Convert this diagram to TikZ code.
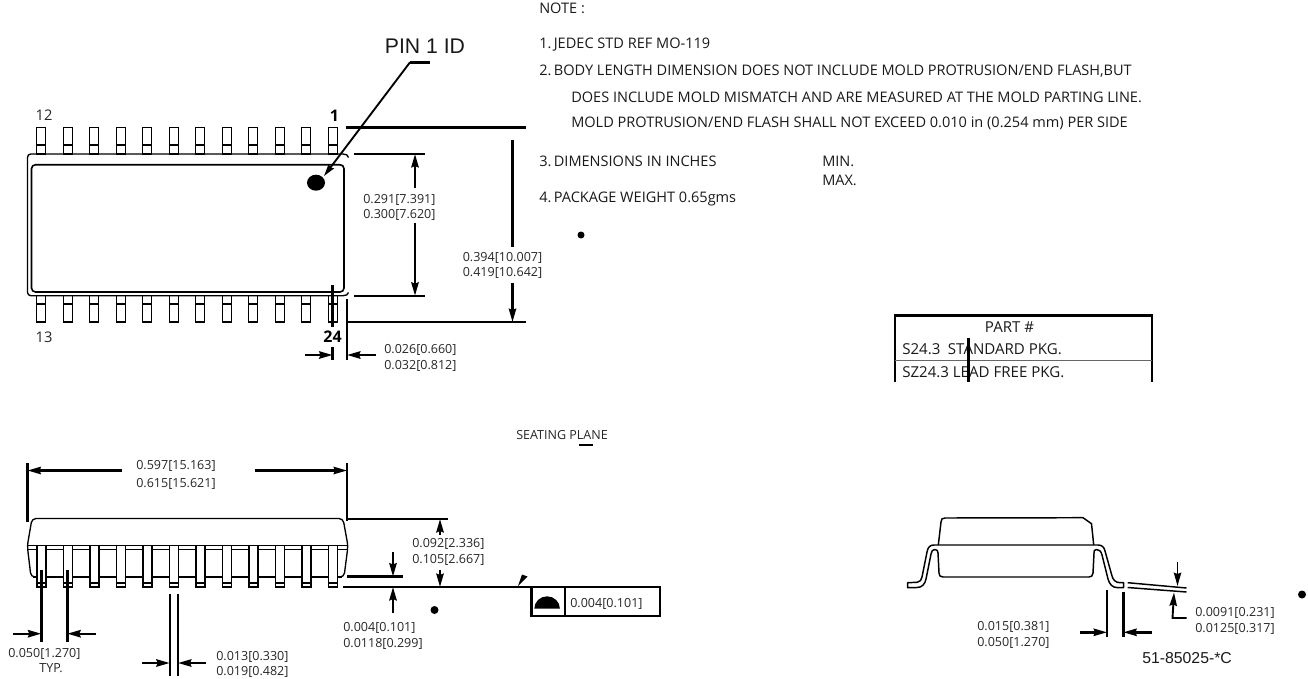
\documentclass[tikz,border=0pt]{standalone}
\usepackage{fontspec}
\setmainfont{Open Sans}
\newfontfamily\arialf{Liberation Sans}
\usetikzlibrary{arrows.meta}
\tikzset{
  dimline/.style={line width=1.8pt},
  dimarrow/.style={line width=1.8pt,-{Stealth[length=10pt,width=5.5pt,inset=1pt]}},
  body/.style={line width=1pt},
  pin/.style={line width=1pt,fill=white},
  dimtext/.style={font=\fontsize{9.4pt}{10pt}\selectfont,inner sep=0pt,anchor=west,text=black!85,text height=6.7pt,text depth=0pt},
  notetext/.style={font=\fontsize{10.9pt}{11pt}\selectfont,inner sep=0pt,anchor=west,text=black!90,text height=7.8pt,text depth=0pt},
  tabletext/.style={notetext,font=\fontsize{11.3pt}{12pt}\selectfont},
  pinno/.style={font=\fontsize{11pt}{11pt}\selectfont,inner sep=0pt,text=black!85},
  pinbold/.style={font=\bfseries\fontsize{12pt}{12pt}\selectfont,inner sep=0pt},
}
\begin{document}
\begin{tikzpicture}[x=0.75pt,y=-0.75pt]
\useasboundingbox (0,0) rectangle (1308,678);
% Top view
\foreach \i in {0,...,11}{
  \pgfmathsetmacro{\px}{36.7+26.5*\i}
  \draw[pin] (\px,127.3) rectangle ++(9,26.7);
  \draw[body] (\px,145) -- ++(9,0);
  \draw[pin] (\px,295.7) rectangle ++(9,26.3);
  \draw[body] (\px,304) -- ++(9,0);
}
\draw[body,rounded corners=2.5pt] (343,154) -- (27.5,154) -- (27.5,295.7) -- (343,295.7);
\draw[body] (343,154) .. controls (346,154) and (348,155) .. (348.5,157.5);
\draw[body] (343,295.7) .. controls (346,295.7) and (348,294.7) .. (348.5,292.5);
\draw[line width=1.2pt,rounded corners=3pt] (31.5,164.7) rectangle (344,292);
\fill (316,182.7) ellipse[x radius=9,y radius=8];
\coordinate (leaderA) at (430,62.3);
\coordinate (leaderB) at (410,62.3);
\coordinate (leaderC) at (324,176);
\draw[line width=1.4pt,-{Stealth[length=9pt,width=5pt,inset=1pt]}] (leaderB) -- (leaderC);
\draw[dimline] (leaderA) -- (leaderB);
\node[inner sep=0pt,font=\arialf\fontsize{15.9pt}{16pt}\selectfont,text=black!90] (pinid) at (425,46) {PIN 1 ID};
\node[pinno] (n12) at (44,115) {12};
\node[pinno] (n13) at (44,337) {13};
\node[pinbold] (n1) at (334.5,115.5) {1};
\node[pinbold] (n24) at (332.5,337) {24};
\draw[dimline] (346,127.5) -- (526,127.5);
\draw[dimline] (348,322) -- (526,322);
\draw[dimline] (354,154) -- (425,154);
\draw[dimline] (354,295.7) -- (425,295.7);
\draw[dimarrow] (415,188) -- (415,154);
\draw[dimarrow] (415,223) -- (415,295.7);
\node[dimtext] (d291) at (363,199) {0.291[7.391]};
\node[dimtext] (d300) at (363,214.5) {0.300[7.620]};
\draw[dimline] (512.5,140) -- (512.5,247);
\draw[dimarrow] (512.5,283) -- (512.5,322);
\node[dimtext] (d394) at (462.5,257) {0.394[10.007]};
\node[dimtext] (d419) at (462.5,272.5) {0.419[10.642]};
\draw[dimline] (347,299) -- (347,360);
\draw[dimline] (332.5,285) -- (332.5,327);
\draw[dimline] (332.5,347) -- (332.5,360);
\draw[dimarrow] (305,355) -- (332.5,355);
\draw[dimarrow] (376,355) -- (347,355);
\node[dimtext] (d026) at (384,349.5) {0.026[0.660]};
\node[dimtext] (d032) at (384,365) {0.032[0.812]};
% Notes
\node[notetext] (nt0) at (539,8) {NOTE :};
\node[notetext] (nt1) at (539,43) {1.\,JEDEC STD REF MO-119};
\node[notetext] (nt2) at (539,70) {2.\,BODY LENGTH DIMENSION DOES NOT INCLUDE MOLD PROTRUSION/END FLASH,BUT};
\node[notetext] (nt2b) at (571,97) {DOES INCLUDE MOLD MISMATCH AND ARE MEASURED AT THE MOLD PARTING LINE.};
\node[notetext] (nt2c) at (571,122) {MOLD PROTRUSION/END FLASH SHALL NOT EXCEED 0.010 in (0.254 mm) PER SIDE};
\node[notetext] (nt3) at (539,161) {3.\,DIMENSIONS IN INCHES};
\node[notetext] (nmin) at (822,161) {MIN.};
\node[notetext] (nmax) at (822,180) {MAX.};
\node[notetext] (nt4) at (539,197) {4.\,PACKAGE WEIGHT 0.65gms};
\fill (581,235) circle[radius=3.5];
% Table
\draw[line width=1.8pt] (895,381.5) -- (895,315.3) -- (1152,315.3) -- (1152,381.5);
\draw[line width=0.7pt,black!60] (895,360) -- (1152,360);
\node[tabletext,anchor=center] (tp) at (1009.5,327) {PART \#};
\node[tabletext] (t1) at (902,349.5) {S24.3\enspace STANDARD PKG.};
\node[tabletext] (t2) at (902,372) {SZ24.3 LEAD FREE PKG.};
\draw[dimline] (968.3,338) -- (968.3,382);
% seating
\node[dimtext] (seat) at (516,435) {SEATING PLANE};
\draw[dimline] (579,445) -- (593,445);
% Front view
\draw[body,rounded corners=3pt] (27.3,546) -- (32,518.5) -- (343,518.5) -- (348,546) -- (344,577) -- (31,577) -- cycle;
\draw[line width=1.2pt] (27.3,545.5) -- (348,545.5);
\draw[line width=1.2pt] (28,549.5) -- (347.5,549.5);
\draw[line width=1.2pt] (33,577) -- (342,577);
\foreach \i in {0,...,11}{
  \pgfmathsetmacro{\px}{37+26.5*\i}
  \draw[pin,line width=1.2pt] (\px,545.5) -- (\px,587) -- ++(9,0) -- ++(0,-41.5);
  \draw[body] (\px,583) -- ++(9,0);
}
\draw[dimline] (27.5,463) -- (27.5,522);
\draw[dimline] (347,463) -- (347,521);
\draw[dimarrow] (122,470.5) -- (27.5,470.5);
\draw[dimarrow] (255,470.5) -- (347,470.5);
\node[dimtext] (d597) at (136,465) {0.597[15.163]};
\node[dimtext] (d615) at (136,483) {0.615[15.621]};
\draw[dimline] (347,519) -- (448,519);
\draw[dimarrow] (440,535) -- (440,519);
\draw[dimarrow] (440,570) -- (440,587);
\node[dimtext] (d092) at (412,543.5) {0.092[2.336]};
\node[dimtext] (d105) at (412,559.5) {0.105[2.667]};
\draw[dimline] (343,587) -- (660,587) -- (660,616) -- (531.3,616) -- (531.3,587);
\draw[dimline] (565,587) -- (565,616);
\fill (534.3,608.7) arc[start angle=180,end angle=360,x radius=12.8,y radius=12.4] -- cycle;
\node[dimtext] (d004b) at (570,603.5) {0.004[0.101]};
\fill (518,586) -- (522,574.5) -- (527.5,576.5) -- cycle;
\draw[dimline] (347,576.5) -- (403,576.5);
\draw[dimarrow] (393,552) -- (393,576.5);
\draw[dimarrow] (393,612.7) -- (393,587);
\fill (434.5,610) circle[radius=4];
\node[dimtext] (d004) at (343,627.5) {0.004[0.101]};
\node[dimtext] (d0118) at (343,643) {0.0118[0.299]};
\draw[dimline] (41.3,570) -- (41.3,642);
\draw[dimline] (67.3,570) -- (67.3,642);
\draw[dimarrow] (13,633.7) -- (41.3,633.7);
\draw[dimarrow] (96,633.7) -- (67.3,633.7);
\node[dimtext] (d050) at (8,653) {0.050[1.270]};
\node[dimtext,anchor=center] (typ) at (51,668) {TYP.};
\draw[dimline] (169.7,594) -- (169.7,676);
\draw[dimline] (178,594) -- (178,676);
\draw[dimarrow] (142,663) -- (169.7,663);
\draw[dimarrow] (206,663) -- (178,663);
\node[dimtext] (d013) at (216,656) {0.013[0.330]};
\node[dimtext] (d019) at (216,671) {0.019[0.482]};
% Side view
\draw[body,line width=1.1pt,line join=round] (938.3,545) -- (941,522) .. controls (941.3,519) and (942,518) .. (945,518) -- (1083,517.7) -- (1091.5,523.7) -- (1093.7,545);
\draw[body,line width=1.1pt,line join=round] (907.7,582.7) -- (917,582.3) .. controls (920,582) and (921.5,580) .. (922,577) -- (927,552) .. controls (928,547) and (930,545) .. (934,545) -- (1098,545) .. controls (1102,545) and (1104,547) .. (1105,551) -- (1112,576) .. controls (1113,580) and (1116,582.7) .. (1120,582.7) -- (1123.5,582.7) -- (1123.5,587.7) -- (1118,587.7) .. controls (1112,587.7) and (1109.5,584) .. (1108,579) -- (1102,555) .. controls (1101,551) and (1099,549.5) .. (1096.5,549.5) .. controls (1094,549.5) and (1094,551) .. (1094,553) -- (1093,573) .. controls (1092.8,576) and (1091,577) .. (1089,577) -- (943,577) .. controls (940,577) and (939,575.5) .. (939,573) -- (938,553) .. controls (938,551) and (937,549.5) .. (935,549.5) .. controls (932.5,549.5) and (931.5,551) .. (931,554) -- (926,579) .. controls (925,584) and (922,587.5) .. (917,587.5) -- (907.7,587.7) -- cycle;
\draw[line width=1.1pt] (1127.7,582.7) -- (1186.5,588);
\draw[line width=1.1pt] (1127.7,587.5) -- (1186.5,592);
\draw[line width=1.4pt,-{Stealth[length=10pt,width=5.5pt,inset=1pt]}] (1177.5,561.5) -- (1177.5,586);
\coordinate (elbowA) at (1186.5,618);
\coordinate (elbowB) at (1172.5,618);
\coordinate (elbowC) at (1174,592.5);
\draw[line width=1.4pt,-{Stealth[length=10pt,width=5.5pt,inset=1pt]}] (elbowA) -- (elbowB) -- (elbowC);
\node[dimtext] (d0091) at (1195,612) {0.0091[0.231]};
\node[dimtext] (d0125) at (1195,628.5) {0.0125[0.317]};
\draw[dimline] (1107,590) -- (1107,637);
\draw[dimline] (1123.3,592) -- (1123.3,637);
\draw[dimarrow] (1080,632.3) -- (1107,632.3);
\draw[dimarrow] (1152,632.3) -- (1123.3,632.3);
\node[dimtext] (d015) at (977,626) {0.015[0.381]};
\node[dimtext] (d050b) at (977,642.5) {0.050[1.270]};
\node[inner sep=0pt,anchor=west,font=\arialf\fontsize{11.85pt}{12pt}\selectfont,text=black!90] (docno) at (1142,658) {51-85025-*C};
\fill (1302,594.5) circle[radius=4];
\end{tikzpicture}
\end{document}
